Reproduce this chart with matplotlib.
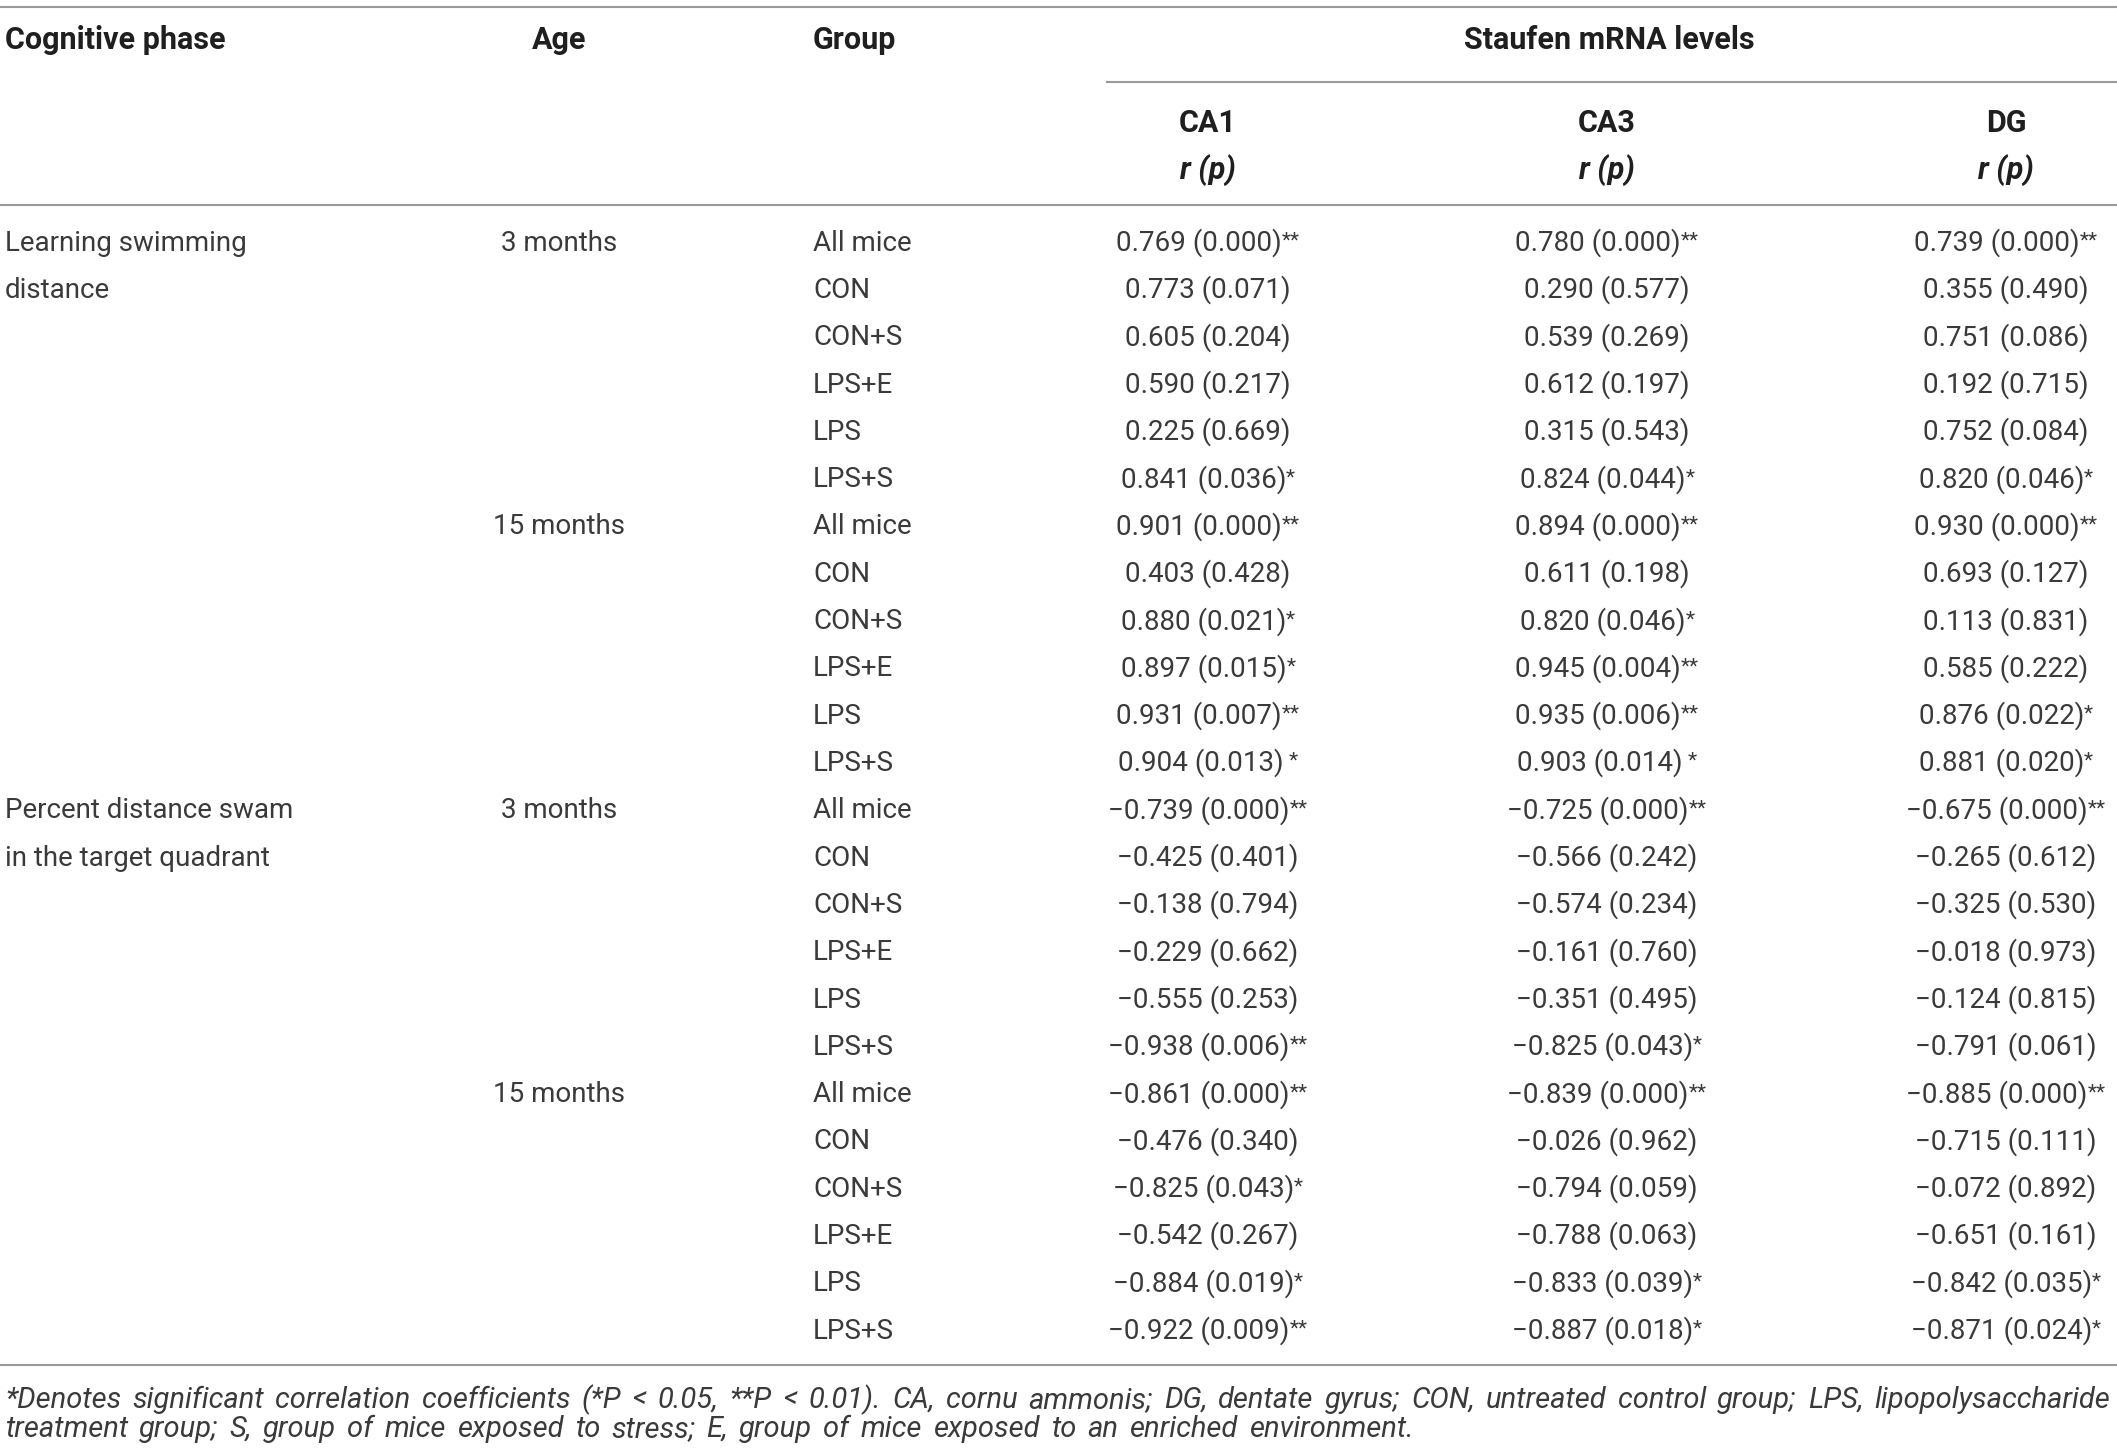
import matplotlib
matplotlib.use('Agg')
import matplotlib.pyplot as plt

# table contents
ages = ["3 months", "15 months", "3 months", "15 months"]
phases = [["Learning swimming", "distance"],
          ["Percent distance swam", "in the target quadrant"]]
groups = ["All mice", "CON", "CON+S", "LPS+E", "LPS", "LPS+S"] * 4
regions = ["CA1", "CA3", "DG"]

ca1_r = [0.769, 0.773, 0.605, 0.590, 0.225, 0.841,
         0.901, 0.403, 0.880, 0.897, 0.931, 0.904,
         -0.739, -0.425, -0.138, -0.229, -0.555, -0.938,
         -0.861, -0.476, -0.825, -0.542, -0.884, -0.922]
ca1_p = [0.000, 0.071, 0.204, 0.217, 0.669, 0.036,
         0.000, 0.428, 0.021, 0.015, 0.007, 0.013,
         0.000, 0.401, 0.794, 0.662, 0.253, 0.006,
         0.000, 0.340, 0.043, 0.267, 0.019, 0.009]
ca1_sig = ["**", "", "", "", "", "*",
           "**", "", "*", "*", "**", " *",
           "**", "", "", "", "", "**",
           "**", "", "*", "", "*", "**"]

ca3_r = [0.780, 0.290, 0.539, 0.612, 0.315, 0.824,
         0.894, 0.611, 0.820, 0.945, 0.935, 0.903,
         -0.725, -0.566, -0.574, -0.161, -0.351, -0.825,
         -0.839, -0.026, -0.794, -0.788, -0.833, -0.887]
ca3_p = [0.000, 0.577, 0.269, 0.197, 0.543, 0.044,
         0.000, 0.198, 0.046, 0.004, 0.006, 0.014,
         0.000, 0.242, 0.234, 0.760, 0.495, 0.043,
         0.000, 0.962, 0.059, 0.063, 0.039, 0.018]
ca3_sig = ["**", "", "", "", "", "*",
           "**", "", "*", "**", "**", " *",
           "**", "", "", "", "", "*",
           "**", "", "", "", "*", "*"]

dg_r = [0.739, 0.355, 0.751, 0.192, 0.752, 0.820,
        0.930, 0.693, 0.113, 0.585, 0.876, 0.881,
        -0.675, -0.265, -0.325, -0.018, -0.124, -0.791,
        -0.885, -0.715, -0.072, -0.651, -0.842, -0.871]
dg_p = [0.000, 0.490, 0.086, 0.715, 0.084, 0.046,
        0.000, 0.127, 0.831, 0.222, 0.022, 0.020,
        0.000, 0.612, 0.530, 0.973, 0.815, 0.061,
        0.000, 0.111, 0.892, 0.161, 0.035, 0.024]
dg_sig = ["**", "", "", "", "", "*",
          "**", "", "", "", "*", "*",
          "**", "", "", "", "", "",
          "**", "", "", "", "*", "*"]

footnote = ["*Denotes significant correlation coefficients (*P < 0.05, **P < 0.01). CA, cornu ammonis; "
            "DG, dentate gyrus; CON, untreated control group; LPS, lipopolysaccharide",
            "treatment group; S, group of mice exposed to stress; E, group of mice exposed to an enriched environment."]

W, H = 2117, 1451
FONT = ['Roboto', 'DejaVu Sans']
TXT = '#3a3a3a'
HEAD = '#1f1f1f'
LINE = '#9a9a9a'
FS = 20

fig = plt.figure(figsize=(W / 100, H / 100), dpi=100)
ax = fig.add_axes([0, 0, 1, 1])
ax.set_xlim(0, W)
ax.set_ylim(H, 0)
ax.axis('off')
renderer = fig.canvas.get_renderer()

# rules
ax.plot([0, W], [7, 7], color=LINE, lw=1.5)
ax.plot([1107, W], [82, 82], color=LINE, lw=1.5)
ax.plot([0, W], [205, 205], color=LINE, lw=1.5)
ax.plot([0, W], [1365, 1365], color=LINE, lw=1.5)

# header
hd = dict(family=FONT, fontsize=22, fontweight='bold', color=HEAD, va='baseline')
ax.text(5, 49, "Cognitive phase", ha='left', **hd)
ax.text(559, 49, "Age", ha='center', **hd)
ax.text(813, 49, "Group", ha='left', **hd)
ax.text(1609, 49, "Staufen mRNA levels", ha='center', **hd)
col_x = [1208, 1607, 2006]
for cx, reg in zip(col_x, regions):
    ax.text(cx, 132, reg, ha='center', **hd)
    ax.text(cx, 179, "r (p)", ha='center', style='italic', **hd)

# body
row0, dy = 241.7, 47.3
body = dict(family=FONT, fontsize=FS, color=TXT, va='baseline')
for k, ph in enumerate(phases):
    for j, line in enumerate(ph):
        ax.text(5, row0 + (12 * k + j) * dy + 9, line, ha='left', **body)
for k, age in enumerate(ages):
    ax.text(559, row0 + 6 * k * dy + 9, age, ha='center', **body)
for i, g in enumerate(groups):
    ax.text(813, row0 + i * dy + 9, g, ha='left', **body)


def fmt(v):
    s = "%.3f" % abs(v)
    return ("\u2212" + s) if v < 0 else s


columns = [(ca1_r, ca1_p, ca1_sig), (ca3_r, ca3_p, ca3_sig), (dg_r, dg_p, dg_sig)]
for cx, (rs, ps, sg) in zip(col_x, columns):
    for i in range(len(rs)):
        y = row0 + i * dy + 9
        t1 = ax.text(0, y, "%s (%s)" % (fmt(rs[i]), "%.3f" % ps[i]), ha='left', **body)
        w1 = t1.get_window_extent(renderer).width
        w2 = 0
        if sg[i]:
            t2 = ax.text(0, y - 4, sg[i], ha='left', family=FONT, fontsize=15,
                         color=TXT, va='baseline')
            w2 = t2.get_window_extent(renderer).width
        left = cx - (w1 + w2) / 2
        t1.set_x(left)
        if sg[i]:
            t2.set_x(left + w1)

# footnote: words spread so the first line runs the full width, like the justified original
fn = dict(family=FONT, fontsize=21, style='italic', color=TXT, va='baseline', ha='left')
x0, x1 = 5, 2110
gap = None
for j, line in enumerate(footnote):
    y = 1408 + j * 29
    words = line.split(" ")
    texts = [ax.text(0, y, w, **fn) for w in words]
    widths = [t.get_window_extent(renderer).width for t in texts]
    if gap is None:
        gap = (x1 - x0 - sum(widths)) / (len(words) - 1)
    x = x0
    for t, w in zip(texts, widths):
        t.set_x(x)
        x += w + gap

fig.savefig('out.png', dpi=100)
